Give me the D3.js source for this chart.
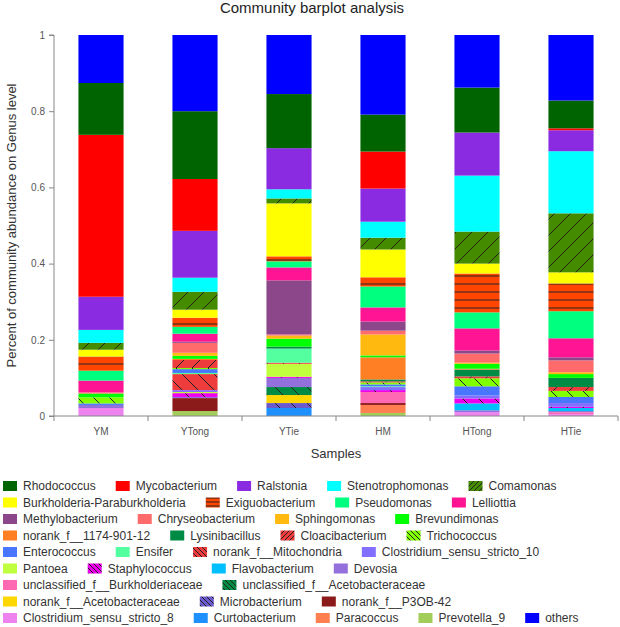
<!DOCTYPE html>
<html>
<head>
<meta charset="utf-8">
<script src="https://cdn.jsdelivr.net/npm/d3@7"></script>
<style>
  html, body { margin: 0; padding: 0; background: #fff; }
  svg { display: block; font-family: "Liberation Sans", Arial, sans-serif; }
</style>
</head>
<body>
<svg id="chart" width="620" height="627"></svg>
<script>
// ---------------- data ----------------
const samples = ["YM", "YTong", "YTie", "HM", "HTong", "HTie"];

const genera = [
  "Rhodococcus", "Mycobacterium", "Ralstonia", "Stenotrophomonas", "Comamonas",
  "Burkholderia-Paraburkholderia", "Exiguobacterium", "Pseudomonas", "Lelliottia",
  "Methylobacterium", "Chryseobacterium", "Sphingomonas", "Brevundimonas",
  "norank_f__1174-901-12", "Lysinibacillus", "Cloacibacterium", "Trichococcus",
  "Enterococcus", "Ensifer", "norank_f__Mitochondria", "Clostridium_sensu_stricto_10",
  "Pantoea", "Staphylococcus", "Flavobacterium", "Devosia",
  "unclassified_f__Burkholderiaceae", "unclassified_f__Acetobacteraceae",
  "norank_f__Acetobacteraceae", "Microbacterium", "norank_f__P3OB-42",
  "Clostridium_sensu_stricto_8", "Curtobacterium", "Paracoccus", "Prevotella_9", "others"
];

// abundance per sample, in the order of `genera`
const valuesYM    = [0.136, 0.425, 0.087, 0.034, 0.018, 0.018, 0.037, 0.026, 0.031, 0, 0.003, 0, 0.010, 0, 0, 0, 0.016, 0.004, 0, 0, 0, 0, 0, 0, 0.008, 0, 0, 0, 0, 0, 0.021, 0, 0, 0, 0.126];
const valuesYTong = [0.178, 0.136, 0.123, 0.037, 0.047, 0.021, 0.024, 0.018, 0.021, 0.003, 0.026, 0.008, 0.008, 0.003, 0, 0.021, 0.003, 0.010, 0.003, 0.042, 0.005, 0.003, 0.010, 0, 0.003, 0, 0, 0, 0, 0.034, 0, 0, 0, 0.013, 0.200];
const valuesYTie  = [0.142, 0, 0.108, 0.024, 0.013, 0.139, 0.013, 0.016, 0.034, 0.142, 0.003, 0.008, 0.021, 0, 0.005, 0, 0, 0, 0.037, 0.003, 0, 0.034, 0.003, 0, 0.024, 0, 0.021, 0.021, 0.013, 0, 0, 0.021, 0, 0, 0.155];
const valuesHM    = [0.097, 0.097, 0.087, 0.042, 0.031, 0.073, 0.024, 0.055, 0.037, 0.024, 0.010, 0.055, 0.005, 0.058, 0.005, 0.003, 0.005, 0.005, 0.002, 0, 0.008, 0, 0.005, 0, 0, 0.029, 0, 0, 0, 0.005, 0, 0, 0.021, 0.008, 0.209];
const valuesHTong = [0.118, 0, 0.113, 0.147, 0.084, 0.026, 0.102, 0.042, 0.058, 0.008, 0.024, 0.003, 0.013, 0.002, 0.018, 0.005, 0.021, 0.024, 0, 0, 0.008, 0, 0.013, 0.018, 0.005, 0, 0, 0, 0, 0, 0.010, 0, 0, 0, 0.138];
const valuesHTie  = [0.073, 0.005, 0.055, 0.163, 0.155, 0.029, 0.073, 0.071, 0.050, 0.008, 0.031, 0.005, 0.010, 0, 0.024, 0.010, 0.016, 0.016, 0, 0, 0.010, 0, 0.003, 0.008, 0.003, 0.005, 0, 0, 0, 0, 0.005, 0, 0, 0, 0.172];

const yTicks = [0, 0.2, 0.4, 0.6, 0.8, 1];

// ---------------- styles ----------------
const colors = [
  "#006400", "#FF0000", "#8A2BE2", "#00FFFF", "#458B00",
  "#FFFF00", "#FF4500", "#00FF7F", "#FF1493",
  "#8B4789", "#FF6A6A", "#FFB90F", "#00FF00",
  "#FF7F24", "#008B45", "#EE3B3B", "#7FFF00",
  "#4876FF", "#54FF9F", "#EE3B3B", "#836FFF",
  "#C0FF3E", "#EE00EE", "#00BFFF", "#9370DB",
  "#FF69B4", "#008B45",
  "#FFD700", "#6A5ACD", "#8B1A1A",
  "#EE82EE", "#1E90FF", "#FF7F50", "#A2CD5A", "#0000FF"
];
// hatch type per genus: "/" , "\\" , "-" or none
const hatch = {
  "Comamonas": "/", "Exiguobacterium": "-", "Cloacibacterium": "/",
  "Trichococcus": "\\", "norank_f__Mitochondria": "\\", "Staphylococcus": "\\",
  "unclassified_f__Acetobacteraceae": "\\", "Microbacterium": "\\"
};

// ---------------- build ----------------
const sampleValues = [valuesYM, valuesYTong, valuesYTie, valuesHM, valuesHTong, valuesHTie];
const table = samples.map((s, i) => {
  const row = { sample: s };
  genera.forEach((g, j) => row[g] = sampleValues[i][j]);
  return row;
});

// stacking order: bottom = last genus before "others", top = "others"
const stackKeys = genera.slice(0, -1).reverse().concat(["others"]);
const series = d3.stack().keys(stackKeys)(table);

const svg = d3.select("#chart");
const defs = svg.append("defs");
const colorOf = g => colors[genera.indexOf(g)];

function fillOf(g, prefix) {
  if (!hatch[g]) return colorOf(g);
  return "url(#" + prefix + genera.indexOf(g) + ")";
}

function makePattern(id, g, size, hsize) {
  const h = hatch[g];
  const s = h === "-" ? hsize : size;
  const p = defs.append("pattern")
    .attr("id", id)
    .attr("patternUnits", "userSpaceOnUse")
    .attr("width", s).attr("height", s);
  p.append("rect").attr("width", s).attr("height", s).attr("fill", colorOf(g));
  let segs;
  if (h === "-") segs = [[0, s / 2, s, s / 2]];
  else if (h === "/") segs = [[0, s, s, 0], [-s, s, 0, 0], [s, s, 2 * s, 0]];
  else segs = [[0, 0, s, s], [-s, 0, 0, s], [s, 0, 2 * s, s]];
  segs.forEach(c =>
    p.append("line").attr("x1", c[0]).attr("y1", c[1]).attr("x2", c[2]).attr("y2", c[3])
      .attr("stroke", "#222").attr("stroke-width", 1));
}

genera.forEach((g, i) => {
  if (!hatch[g]) return;
  makePattern("pat" + i, g, 16, 8);
  makePattern("lpat" + i, g, 5, 4);
});

const mLeft = 54, mRight = 618, mTop = 35, mBottom = 416;
const x = d3.scaleBand().domain(samples).range([mLeft, mRight]).paddingInner(0.52).paddingOuter(0.26);
const y = d3.scaleLinear().domain([0, 1]).range([mBottom, mTop]);

// bars
svg.append("g").selectAll("g").data(series).join("g")
  .attr("fill", d => fillOf(d.key, "pat"))
  .selectAll("rect").data(d => d).join("rect")
  .attr("x", d => x(d.data.sample))
  .attr("width", x.bandwidth())
  .attr("y", d => y(d[1]))
  .attr("height", d => Math.max(0, y(d[0]) - y(d[1])));

// y axis
const yAxis = svg.append("g").attr("transform", `translate(${mLeft},0)`)
  .call(d3.axisLeft(y).tickValues(yTicks).tickFormat(d3.format("~g")).tickSize(5).tickPadding(4));
yAxis.select(".domain").attr("stroke", "#888").attr("d", `M-5,${mTop}H0V${mBottom}H-5`);
yAxis.selectAll(".tick line").attr("stroke", "#888");
yAxis.selectAll("text").attr("fill", "#555").style("font-size", "10px");

// x axis
const xAxis = svg.append("g").attr("transform", `translate(0,${mBottom})`);
xAxis.append("line").attr("x1", mLeft).attr("x2", mRight).attr("stroke", "#888");
const step = x.step();
d3.range(samples.length + 1).forEach(i => {
  xAxis.append("line").attr("x1", mLeft + i * step).attr("x2", mLeft + i * step)
    .attr("y1", 0).attr("y2", 5).attr("stroke", "#888");
});
xAxis.selectAll("text.xl").data(samples).join("text").attr("class", "xl")
  .attr("x", d => x(d) + x.bandwidth() / 2).attr("y", 19)
  .attr("text-anchor", "middle").attr("fill", "#555").style("font-size", "10px")
  .text(d => d);

// titles
svg.append("text").attr("x", 312).attr("y", 13).attr("text-anchor", "middle")
  .attr("fill", "#222").style("font-size", "15px").text("Community barplot analysis");
svg.append("text").attr("x", (mLeft + mRight) / 2).attr("y", 458).attr("text-anchor", "middle")
  .attr("fill", "#333").style("font-size", "13px").text("Samples");
svg.append("text").attr("transform", `translate(16,${(mTop + mBottom) / 2}) rotate(-90)`)
  .attr("text-anchor", "middle").attr("fill", "#333").style("font-size", "13px")
  .text("Percent of community abundance on Genus level");

// legend (flow layout)
const leg = svg.append("g");
const swW = 14, swH = 10, textGap = 6, itemGap = 20, maxX = 600;
let lx = 3, row = 0;
const rowY0 = 486, rowStep = 16.5;
genera.forEach(g => {
  const item = leg.append("g");
  const t = item.append("text").attr("fill", "#333").style("font-size", "12px")
    .attr("dy", "0.35em").text(g);
  const tw = t.node().getComputedTextLength();
  if (lx + swW + textGap + tw > maxX && lx > 3) { row++; lx = 3; }
  const cy = rowY0 + row * rowStep;
  item.insert("rect", "text").attr("x", lx).attr("y", cy - swH / 2).attr("width", swW).attr("height", swH)
    .attr("fill", fillOf(g, "lpat"));
  t.attr("x", lx + swW + textGap).attr("y", cy);
  lx += swW + textGap + tw + itemGap;
});
</script>
</body>
</html>
